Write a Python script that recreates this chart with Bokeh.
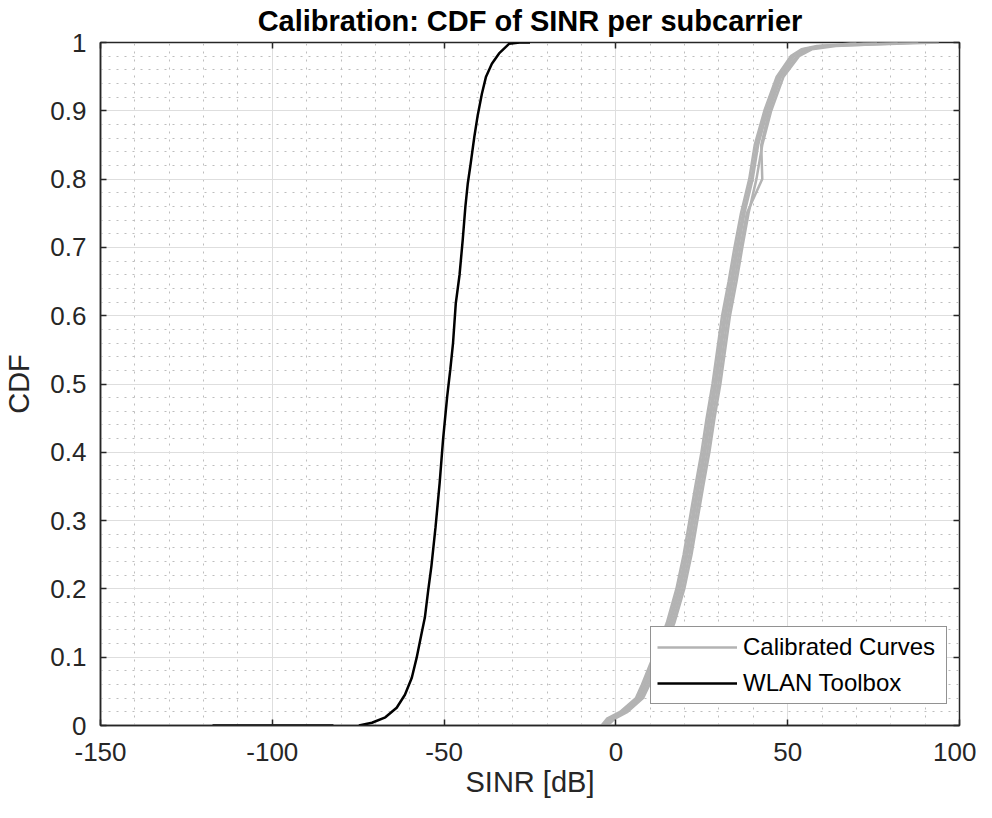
import numpy as np
from bokeh.plotting import figure
from bokeh.models import FixedTicker, LinearAxis, Legend, LegendItem, Range1d
from bokeh.embed import file_html
from bokeh.resources import INLINE

# ---------------- data ----------------
x_ticks = [-150, -100, -50, 0, 50, 100]
x_tick_labels = ["-150", "-100", "-50", "0", "50", "100"]
y_ticks = [0, 0.1, 0.2, 0.3, 0.4, 0.5, 0.6, 0.7, 0.8, 0.9, 1.0]
y_tick_labels = ["0", "0.1", "0.2", "0.3", "0.4", "0.5", "0.6", "0.7", "0.8", "0.9", "1"]
x_minor = [v for v in range(-150, 101, 10) if v % 50 != 0]
y_minor = [round(i * 0.02, 2) for i in range(51) if i % 5 != 0]

# WLAN Toolbox CDF (black)
wlan_sinr = [-117.4, -82.2, np.nan, -74.8, -71.0, -67.1, -63.8, -61.4, -59.4, -58.0,
             -56.5, -55.6, -54.6, -53.7, -52.5, -51.3, -50.3, -49.1, -48.2, -47.4,
             -46.6, -45.5, -44.6, -43.8, -43.1, -42.4, -41.2, -40.2, -39.0, -37.8,
             -36.1, -34.0, -31.1, -28.0, -25.0]
wlan_cdf = [0.0, 0.0, np.nan, 0.0, 0.004, 0.012, 0.026, 0.045, 0.070, 0.099,
            0.136, 0.158, 0.199, 0.233, 0.290, 0.355, 0.419, 0.482, 0.521, 0.560,
            0.618, 0.660, 0.710, 0.760, 0.794, 0.818, 0.862, 0.894, 0.925, 0.950,
            0.969, 0.984, 0.998, 1.0, 1.0]

# Calibrated curves (grey)
cal_cdf = [0.0, 0.01, 0.02, 0.04, 0.06, 0.09, 0.12, 0.15, 0.20, 0.25, 0.30, 0.35,
           0.40, 0.45, 0.50, 0.55, 0.60, 0.65, 0.70, 0.75, 0.80, 0.85, 0.90, 0.95,
           0.98, 0.99, 0.995, 1.0]
cal_sinr_a = [-4.2, -2.6, 1.2, 5.8, 7.6, 10.0, 12.5, 14.8, 17.6, 19.7, 21.4, 23.1,
              24.9, 26.4, 28.1, 29.5, 30.9, 32.8, 34.5, 36.4, 38.8, 40.4, 43.2, 46.8,
              50.9, 54.0, 58.5, 76.0]
cal_sinr_b = [-3.8, -1.9, 1.8, 6.4, 8.2, 10.6, 13.1, 15.4, 18.2, 20.3, 22.0, 23.7,
              25.5, 27.0, 28.7, 30.1, 31.5, 33.4, 35.1, 37.0, 39.4, 41.0, 43.7, 47.2,
              51.4, 54.6, 59.5, 82.0]
cal_sinr_c = [-3.5, -1.5, 2.2, 6.8, 8.6, 11.0, 13.6, 15.8, 18.7, 20.8, 22.5, 24.2,
              26.0, 27.5, 29.2, 30.6, 32.0, 33.9, 35.6, 37.4, 39.8, 41.4, 44.1, 47.6,
              51.8, 55.0, 60.0, 94.0]
cal_sinr_d = [-3.0, -0.9, 2.8, 7.3, 9.2, 11.6, 14.1, 16.4, 19.3, 21.4, 23.1, 24.8,
              26.6, 28.1, 29.8, 31.2, 32.6, 34.5, 36.2, 38.1, 42.6, 42.3, 44.6, 48.1,
              52.6, 56.0, 62.0, 70.0]
cal_sinr_e = [-2.4, -0.3, 3.4, 7.9, 9.8, 12.2, 14.7, 17.0, 19.9, 22.0, 23.7, 25.4,
              27.2, 28.7, 30.4, 31.8, 33.2, 35.1, 36.8, 38.6, 40.9, 42.6, 45.2, 48.8,
              53.3, 57.0, 64.0, 88.0]
cal_curves = [cal_sinr_a, cal_sinr_b, cal_sinr_c, cal_sinr_d, cal_sinr_e]

# ---------------- figure ----------------
AX = "#262626"
FONT = "Liberation Sans"

p = figure(width=976, height=802, output_backend="svg", toolbar_location=None,
           x_range=Range1d(-150, 100), y_range=Range1d(0, 1),
           min_border_left=93, min_border_right=17, min_border_top=41,
           min_border_bottom=77, background_fill_color="white",
           border_fill_color="white")

p.title.text = "Calibration: CDF of SINR per subcarrier"
p.title.text_font = FONT
p.title.text_font_size = "29px"
p.title.text_font_style = "bold"
p.title.text_color = "#000000"
p.title.align = "center"
p.title.standoff = 4
p.title.offset = 0

p.outline_line_color = AX
p.outline_line_width = 1.5
p.outline_line_alpha = 1.0

xt = FixedTicker(ticks=x_ticks, minor_ticks=x_minor)
yt = FixedTicker(ticks=y_ticks, minor_ticks=y_minor)

xa = p.xaxis[0]
xa.ticker = xt
xa.axis_label = "SINR [dB]"
xa.major_label_overrides = {t: s for t, s in zip(x_ticks, x_tick_labels)}
ya = p.yaxis[0]
ya.ticker = yt
ya.axis_label = "CDF"
ya.major_label_overrides = {t: s for t, s in zip(y_ticks, y_tick_labels)}

for ax in (xa, ya):
    ax.axis_line_color = AX
    ax.axis_line_width = 1.5
    ax.major_tick_line_color = AX
    ax.major_tick_line_width = 1.5
    ax.major_tick_in = 6
    ax.major_tick_out = 0
    ax.minor_tick_line_color = None
    ax.major_label_text_font = FONT
    ax.major_label_text_font_size = "26px"
    ax.major_label_text_color = AX
    ax.axis_label_text_font = FONT
    ax.axis_label_text_font_size = "29px"
    ax.axis_label_text_font_style = "normal"
    ax.axis_label_text_color = AX

xa.major_label_standoff = 13
xa.axis_label_standoff = 2
ya.major_label_standoff = 10
ya.axis_label_standoff = 12

# inward tick marks on the top and right edges of the box
top = LinearAxis(ticker=xt, major_label_text_font_size="0px", major_label_standoff=0,
                 axis_line_color=None, major_tick_in=6, major_tick_out=0,
                 major_tick_line_color=AX, major_tick_line_width=1.5,
                 minor_tick_line_color=None)
right = LinearAxis(ticker=yt, major_label_text_font_size="0px", major_label_standoff=0,
                   axis_line_color=None, major_tick_in=6, major_tick_out=0,
                   major_tick_line_color=AX, major_tick_line_width=1.5,
                   minor_tick_line_color=None)
p.add_layout(top, "above")
p.add_layout(right, "right")

for g in (p.xgrid[0], p.ygrid[0]):
    g.grid_line_color = "#dedede"
    g.grid_line_width = 1
    g.minor_grid_line_color = "#bdbdbd"
    g.minor_grid_line_dash = "2 6"
    g.minor_grid_line_width = 1
p.xgrid[0].ticker = xt
p.ygrid[0].ticker = yt

# ---------------- curves ----------------
cal_renderers = []
for s in cal_curves:
    r = p.line(s, cal_cdf, line_color="#b3b3b3", line_width=2.5)
    cal_renderers.append(r)

wlan_r = p.line(wlan_sinr, wlan_cdf, line_color="#000000", line_width=2.5)

legend = Legend(items=[LegendItem(label="Calibrated Curves", renderers=[cal_renderers[0]]),
                       LegendItem(label="WLAN Toolbox", renderers=[wlan_r])],
                location=(550, 21), margin=0, padding=6, spacing=8,
                glyph_width=80, glyph_height=26, label_height=26, label_width=197,
                label_standoff=6,
                label_text_font=FONT, label_text_font_size="24px",
                label_text_color="#000000",
                border_line_color=AX, border_line_width=1.5,
                background_fill_color="white", background_fill_alpha=1.0)
p.add_layout(legend)

open("out.html", "w").write(file_html(p, INLINE))
